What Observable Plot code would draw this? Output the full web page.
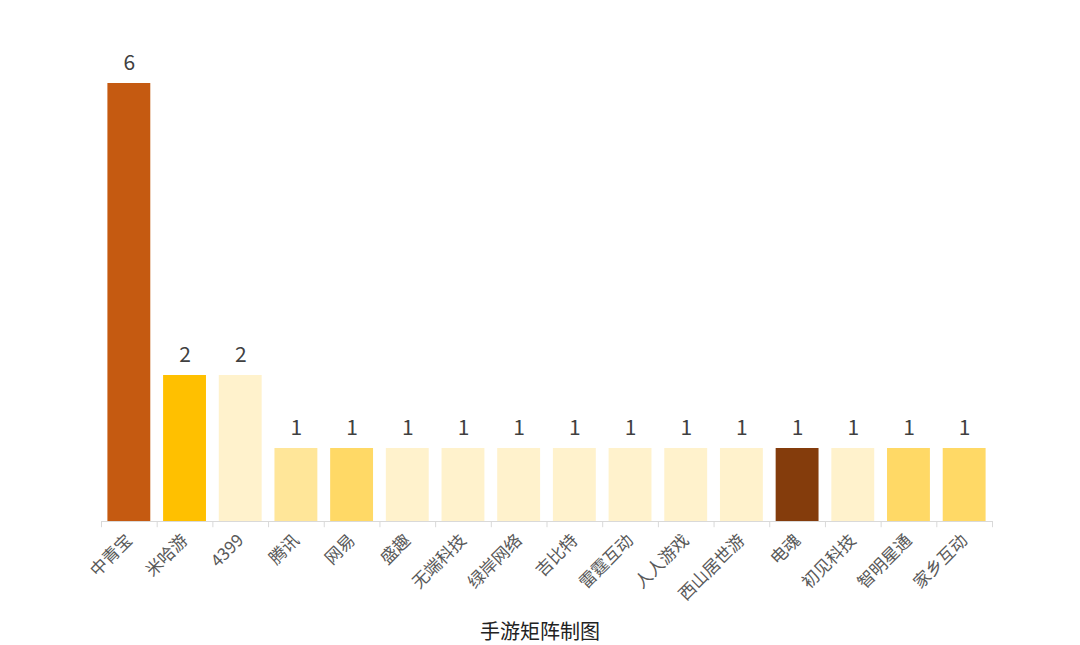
<!DOCTYPE html>
<html>
<head>
<meta charset="utf-8">
<script src="https://cdn.jsdelivr.net/npm/d3@7"></script>
<script src="https://cdn.jsdelivr.net/npm/@observablehq/plot@0.6"></script>
<style>
  body { margin: 0; background: #fff; font-family: "Noto Sans CJK SC", "Noto Sans", sans-serif; }
  #caption { width: 1080px; text-align: center; font-size: 20px; color: #222; line-height: 26px; margin-top: 10px; }
</style>
</head>
<body>
<div id="chart"></div>
<div id="caption">手游矩阵制图</div>
<script>
const companies = ["中青宝","米哈游","4399","腾讯","网易","盛趣","无端科技","绿岸网络","吉比特","雷霆互动","人人游戏","西山居世游","电魂","初见科技","智明星通","家乡互动"];
const counts = [6,2,2,1,1,1,1,1,1,1,1,1,1,1,1,1];
const colors = ["#C55A11","#FFC000","#FFF2CC","#FFE699","#FFD966","#FFF2CC","#FFF2CC","#FFF2CC","#FFF2CC","#FFF2CC","#FFF2CC","#FFF2CC","#843C0C","#FFF2CC","#FFD966","#FFD966"];

const data = companies.map((c, i) => ({company: c, count: counts[i], color: colors[i]}));

const W = 1080, ML = 101, MR = 88;
const bw = (W - ML - MR) / companies.length;

const chart = Plot.plot({
  width: W,
  height: 608,
  marginLeft: ML,
  marginRight: MR,
  marginTop: 83,
  marginBottom: 87,
  style: {fontFamily: '"Noto Sans CJK SC", "Noto Sans", sans-serif', background: "#fff"},
  x: {domain: companies, paddingInner: 0.23, paddingOuter: 0.115, round: false, label: null},
  y: {domain: [0, 6], axis: null},
  marks: [
    Plot.barY(data, {x: "company", y: "count", fill: "color"}),
    Plot.ruleY([0], {stroke: "#d9d9d9", strokeWidth: 1}),
    Plot.ruleX(companies, {x: d => d, y1: 0, y2: -0.085, dx: -bw / 2, stroke: "#d9d9d9"}),
    Plot.ruleX([companies[companies.length - 1]], {x: d => d, y1: 0, y2: -0.085, dx: bw / 2, stroke: "#d9d9d9"}),
    Plot.axisX({tickRotate: -45, tickSize: 0, tickPadding: 16, fontSize: 17, fill: "#595959", label: null}),
    Plot.text(data, {x: "company", y: "count", text: d => String(d.count), lineAnchor: "bottom", dy: -14, fontSize: 21, fill: "#404040"})
  ]
});
document.getElementById("chart").appendChild(chart);
</script>
</body>
</html>
